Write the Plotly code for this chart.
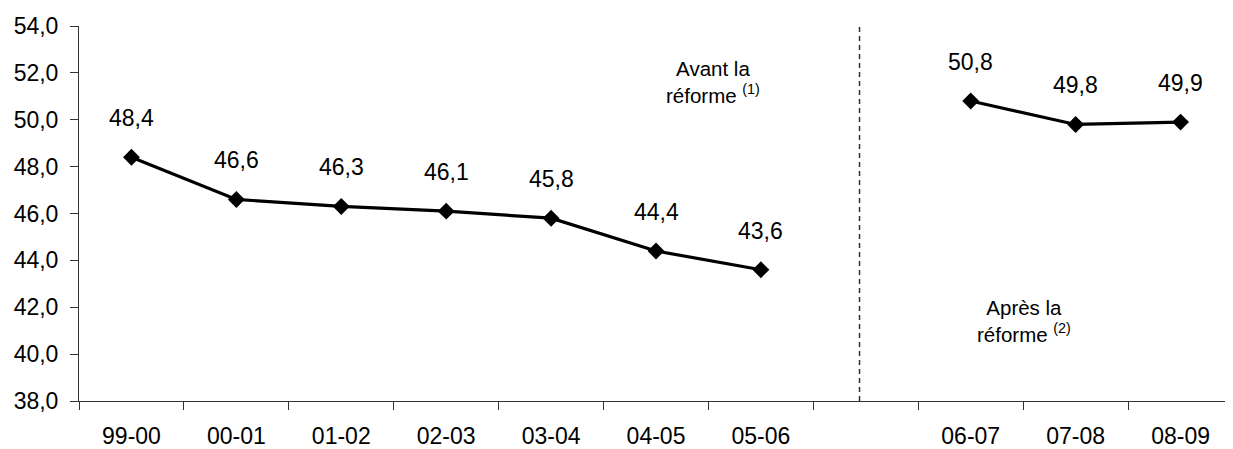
import plotly.graph_objects as go

categories = ["99-00", "00-01", "01-02", "02-03", "03-04", "04-05", "05-06", " ", "06-07", "07-08", "08-09"]
values = [48.4, 46.6, 46.3, 46.1, 45.8, 44.4, 43.6, None, 50.8, 49.8, 49.9]
y_ticks = [38, 40, 42, 44, 46, 48, 50, 52, 54]
note_before = "Avant la<br>réforme <sup>(1)</sup>"
note_after = "Après la<br>réforme <sup>(2)</sup>"

FONT = "Liberation Sans, Arial, sans-serif"
FS = 23

fig = go.Figure()
fig.add_trace(go.Scatter(
    x=categories, y=values, mode="lines+markers",
    line=dict(color="black", width=3.2),
    marker=dict(symbol="diamond", size=13, color="black"),
    connectgaps=False, showlegend=False, hoverinfo="skip",
))

for c, v in zip(categories, values):
    if v is None:
        continue
    fig.add_annotation(x=c, y=v, xref="x", yref="y", text=f"{v:.1f}".replace(".", ","),
                       showarrow=False, yanchor="middle", yshift=39,
                       font=dict(family=FONT, size=FS, color="black"))

fig.add_annotation(x=5.54, y=51.6, xref="x", yref="y", text=note_before, showarrow=False,
                   font=dict(family=FONT, size=20.5, color="black"), align="center")
fig.add_annotation(x=8.51, y=41.4, xref="x", yref="y", text=note_after, showarrow=False,
                   font=dict(family=FONT, size=20.5, color="black"), align="center")

fig.add_shape(type="line", xref="x", yref="paper", x0=6.94, x1=6.94, y0=0, y1=1,
              line=dict(color="#333333", width=1.5, dash="5px,4px"))

fig.update_layout(
    width=1225, height=441,
    margin=dict(l=71, r=0, t=18, b=48),
    paper_bgcolor="white", plot_bgcolor="white",
    separators=", ",
    font=dict(family=FONT, size=FS, color="black"),
    xaxis=dict(type="category", categoryorder="array", categoryarray=categories,
               range=[-0.5, 10.5], tickson="boundaries", ticks="outside", ticklen=8,
               tickcolor="#333333", showline=True, linecolor="#333333", linewidth=1,
               showgrid=False, zeroline=False, ticklabelstandoff=14,
               tickfont=dict(family=FONT, size=FS)),
    yaxis=dict(range=[38, 54], tickvals=y_ticks, tickformat=".1f", ticks="outside",
               ticklen=8, tickcolor="#333333", showline=True, linecolor="#333333",
               linewidth=1, showgrid=False, zeroline=False, ticklabelstandoff=7,
               tickfont=dict(family=FONT, size=FS)),
)

fig.write_html("out.html")
